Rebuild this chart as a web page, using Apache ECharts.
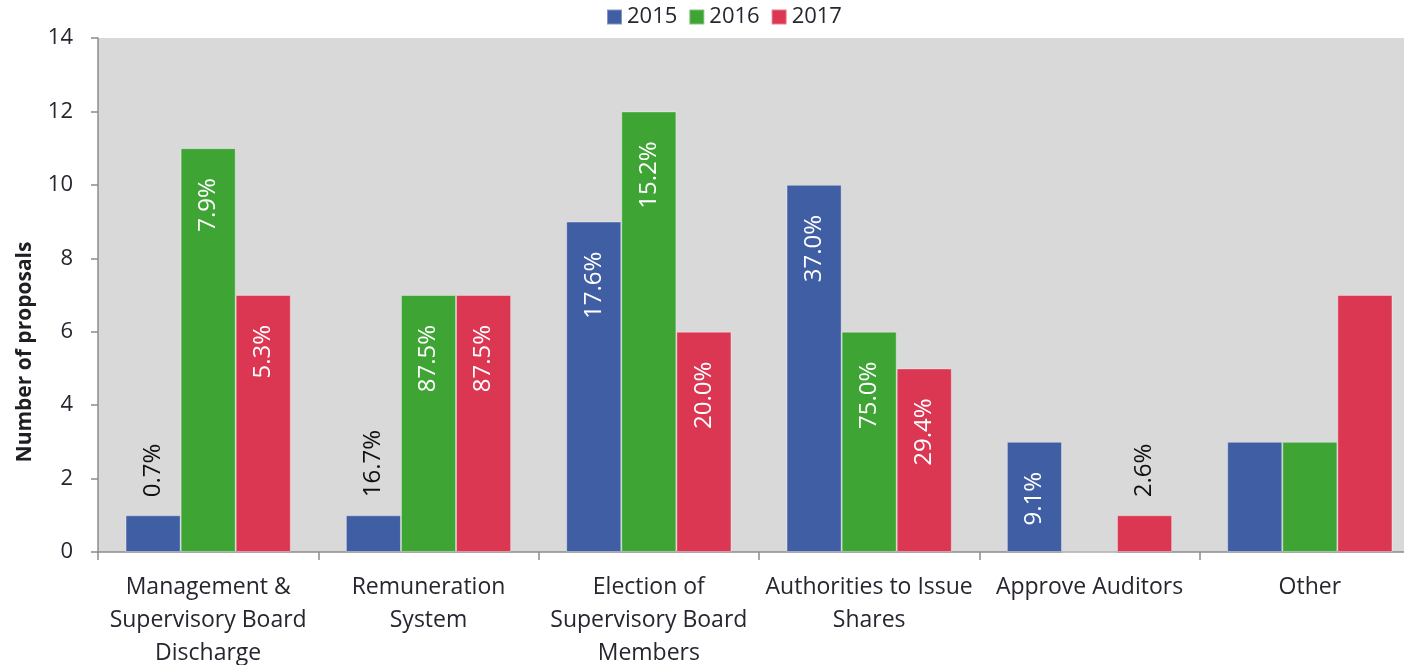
<!DOCTYPE html>
<html>
<head>
<meta charset="utf-8">
<script src="https://cdn.jsdelivr.net/npm/echarts@6/dist/echarts.min.js"></script>
<style>
  html, body { margin: 0; padding: 0; background: #fff; }
  #chart { width: 1404px; height: 665px; }
</style>
</head>
<body>
<div id="chart"></div>
<script>
// chart data
const categories = ['Management &\nSupervisory Board\nDischarge', 'Remuneration\nSystem', 'Election of\nSupervisory Board\nMembers', 'Authorities to Issue\nShares', 'Approve Auditors', 'Other'];
const years = ['2015', '2016', '2017'];
const values2015 = [1, 1, 9, 10, 3, 3];
const values2016 = [11, 7, 12, 6, 0, 3];
const values2017 = [7, 7, 6, 5, 1, 7];
const labels2015 = ['0.7%', '16.7%', '17.6%', '37.0%', '9.1%', ''];
const labels2016 = ['7.9%', '87.5%', '15.2%', '75.0%', '', ''];
const labels2017 = ['5.3%', '87.5%', '20.0%', '29.4%', '2.6%', ''];
const yTicks = [0, 2, 4, 6, 8, 10, 12, 14];

const colors = ['#3f5ea3', '#3ea535', '#db3753'];
const FONT = 'Open Sans';

// small bars get the label above, others inside near the top
function buildData(values, labels) {
    return values.map(function (v, i) {
        let item = { value: v };
        if (!labels[i]) {
            item.label = { show: false };
        } else if (v <= 1) {
            item.label = {
                show: true, formatter: labels[i], position: 'top', distance: 18,
                rotate: 90, align: 'left', verticalAlign: 'middle', color: '#111'
            };
        } else {
            item.label = {
                show: true, formatter: labels[i], position: 'insideTop', distance: 30,
                rotate: 90, align: 'right', verticalAlign: 'middle', color: '#fff'
            };
        }
        return item;
    });
}

function makeSeries(name, values, labels, color) {
    return {
        name: name,
        type: 'bar',
        barGap: 0,
        barCategoryGap: '25%',
        itemStyle: { color: color, borderColor: 'rgba(255,255,255,0.35)', borderWidth: 1 },
        label: { fontFamily: FONT, fontSize: 24 },
        data: buildData(values, labels)
    };
}

let chart = echarts.init(document.getElementById('chart'), null, { renderer: 'canvas' });

let option = {
    animation: false,
    textStyle: { fontFamily: FONT },
    legend: {
        data: years,
        left: 601,
        top: 1,
        icon: 'rect',
        itemWidth: 15,
        itemHeight: 15,
        itemGap: 11,
        textStyle: { fontFamily: FONT, fontSize: 22, color: '#262630' }
    },
    // the plot runs past the right edge of the picture
    grid: {
        left: 98,
        width: 1322,
        top: 38,
        bottom: 113,
        outerBoundsMode: 'none',
        containLabel: false,
        show: true,
        backgroundColor: '#d9d9d9',
        borderWidth: 0
    },
    xAxis: {
        type: 'category',
        data: categories,
        axisLine: { lineStyle: { color: '#8c8c8c', width: 1.5 } },
        axisTick: { show: true, length: 8, lineStyle: { color: '#8c8c8c', width: 1.5 } },
        axisLabel: {
            interval: 0, margin: 19, fontFamily: FONT, fontSize: 23,
            lineHeight: 33, color: '#262630'
        }
    },
    yAxis: {
        type: 'value',
        min: yTicks[0],
        max: yTicks[yTicks.length - 1],
        interval: 2,
        name: 'Number of proposals',
        nameLocation: 'middle',
        nameGap: 62,
        nameTextStyle: {
            fontFamily: FONT, fontSize: 21, fontWeight: 'bold', color: '#1e1e24',
            padding: [0, 114, 0, 0]
        },
        splitLine: { show: false },
        axisLine: { show: true, lineStyle: { color: '#8c8c8c', width: 1.5 } },
        axisTick: { show: true, length: 7, lineStyle: { color: '#8c8c8c', width: 1.5 } },
        axisLabel: { margin: 25, fontFamily: FONT, fontSize: 22, color: '#262630' }
    },
    series: [
        makeSeries(years[0], values2015, labels2015, colors[0]),
        makeSeries(years[1], values2016, labels2016, colors[1]),
        makeSeries(years[2], values2017, labels2017, colors[2])
    ]
};

chart.setOption(option);
</script>
</body>
</html>
